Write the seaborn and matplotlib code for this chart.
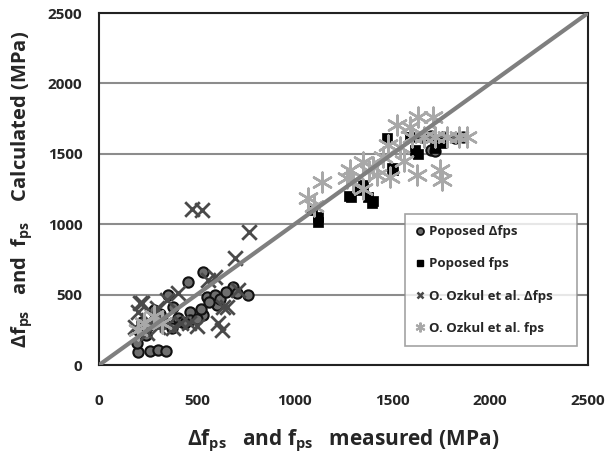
import matplotlib
matplotlib.use("Agg")
import matplotlib.pyplot as plt
import seaborn as sns
from matplotlib.lines import Line2D

# Proposed Δfps (circles)
prop_dfps_x = [200, 260, 300, 345, 193, 201, 218, 295, 372, 405, 423, 465, 465, 533,
               533, 457, 354, 550, 593, 602, 687, 704, 763, 250, 330, 310, 380, 440,
               500, 520, 560, 620, 650, 240, 280, 1650, 1700, 1760, 1820, 1860, 1700, 1720]
prop_dfps_y = [95, 100, 105, 100, 154, 249, 308, 320, 260, 331, 308, 379, 320, 355,
               663, 592, 497, 485, 497, 426, 556, 509, 497, 280, 300, 360, 410, 300,
               330, 400, 450, 470, 520, 210, 390, 1620, 1625, 1620, 1615, 1620, 1530, 1520]

# Proposed fps (squares)
prop_fps_x = [1120, 1120, 1090, 1290, 1280, 1377, 1394, 1400, 1505, 1471, 1616, 1633,
              1718, 1749, 1590, 1350, 1330, 1500]
prop_fps_y = [1015, 1050, 1100, 1195, 1200, 1195, 1148, 1165, 1385, 1610, 1527, 1500,
              1539, 1577, 1621, 1280, 1240, 1400]

# O. Ozkul et al. Δfps (x marks)
ozk_dfps_x = [475, 525, 768, 695, 593, 218, 346, 627, 610, 712, 653, 210, 295, 405,
              559, 184, 244, 346, 636, 250, 300, 200, 330, 380, 420, 270, 460, 500]
ozk_dfps_y = [1110, 1100, 947, 758, 627, 438, 462, 249, 300, 533, 414, 438, 403, 509,
              604, 272, 225, 284, 414, 320, 270, 380, 330, 260, 300, 350, 300, 280]

# O. Ozkul et al. fps (asterisks)
ozk_fps_x = [1138, 1070, 1283, 1351, 1402, 1522, 1633, 1709, 1590, 1624, 1743, 1752,
             1488, 1539, 1600, 1660, 1720, 1780, 1840, 1880, 1300, 1350, 1420, 1450,
             1560, 1480, 1100, 1380, 1270, 230, 280, 320, 200]
ozk_fps_y = [1302, 1184, 1385, 1444, 1408, 1705, 1764, 1764, 1692, 1350, 1385, 1314,
             1337, 1550, 1620, 1620, 1620, 1620, 1620, 1620, 1300, 1250, 1350, 1480,
             1450, 1560, 1130, 1380, 1330, 300, 350, 300, 250]

series_names = ["Poposed \u0394fps", "Poposed fps",
                "O. Ozkul et al. \u0394fps", "O. Ozkul et al. fps"]

ticks = [0, 500, 1000, 1500, 2000, 2500]

sns.set_style("white")
plt.rcParams["font.family"] = ["Open Sans", "DejaVu Sans"]
plt.rcParams["font.weight"] = "bold"
plt.rcParams["mathtext.fontset"] = "custom"
plt.rcParams["mathtext.rm"] = "Open Sans:bold"
plt.rcParams["mathtext.it"] = "Open Sans:bold"
plt.rcParams["mathtext.bf"] = "Open Sans:bold"

fig = plt.figure(figsize=(6.13, 4.68), dpi=100)
ax = fig.add_axes([0.1615, 0.220, 0.7975, 0.752])

asterisk = (6, 2, 0)

sns.scatterplot(x=prop_dfps_x, y=prop_dfps_y, ax=ax, marker="o", s=55,
                color="#6e6e6e", edgecolor="#111111", linewidth=1.5, zorder=3)
sns.scatterplot(x=prop_fps_x, y=prop_fps_y, ax=ax, marker="s", s=55,
                color="#000000", edgecolor="#000000", linewidth=0.5, zorder=3)
sns.scatterplot(x=ozk_dfps_x, y=ozk_dfps_y, ax=ax, marker="x", s=110,
                color="#4a4a4a", linewidth=2.0, zorder=4)
sns.scatterplot(x=ozk_fps_x, y=ozk_fps_y, ax=ax, marker=asterisk, s=200,
                color="#a8a8a8", edgecolor="#a8a8a8", linewidth=1.8, zorder=4)

# 1:1 reference line
sns.lineplot(x=[0, 2500], y=[0, 2500], ax=ax, color="#7f7f7f", linewidth=3, zorder=5)

ax.set_xlim(0, 2500)
ax.set_ylim(0, 2500)
ax.set_xticks(ticks)
ax.set_yticks(ticks)
ax.set_xticklabels([str(t) for t in ticks], fontsize=11, fontweight="bold")
ax.set_yticklabels([str(t) for t in ticks], fontsize=11, fontweight="bold")
ax.tick_params(axis="x", length=0, pad=21)
ax.tick_params(axis="y", length=0, pad=12)
ax.yaxis.grid(True, color="#8c8c8c", linewidth=1.5)
ax.xaxis.grid(False)
for sp in ax.spines.values():
    sp.set_color("#222222")
    sp.set_linewidth(1.5)

ax.set_xlabel(r"$\Delta f_{ps}$   and $f_{ps}$   measured (MPa)", fontsize=15,
              fontweight="bold", labelpad=14)
ax.set_ylabel(r"$\Delta f_{ps}$   and  $f_{ps}$    Calculated (MPa)", fontsize=14.5,
              fontweight="bold", labelpad=10)

handles = [
    Line2D([], [], linestyle="none", marker="o", markersize=5, markerfacecolor="#6e6e6e",
           markeredgecolor="#111111", markeredgewidth=1.3),
    Line2D([], [], linestyle="none", marker="s", markersize=5, color="#000000"),
    Line2D([], [], linestyle="none", marker="x", markersize=5, color="#4a4a4a",
           markeredgewidth=1.8),
    Line2D([], [], linestyle="none", marker=asterisk, markersize=7, color="#a8a8a8",
           markeredgewidth=1.5),
]
leg = ax.legend(handles, series_names, loc="upper left",
                bbox_to_anchor=(0.626, 0.0625, 0.351, 0.3665), mode="expand",
                frameon=True, fancybox=False, handlelength=0.6,
                handletextpad=0.35, labelspacing=1.45, borderpad=0.85,
                borderaxespad=0.0, prop={"weight": "bold", "size": 9.5})
leg.get_frame().set_edgecolor("#8c8c8c")
leg.get_frame().set_linewidth(1.2)
leg.set_zorder(6)

fig.savefig("out.png", dpi=100)
